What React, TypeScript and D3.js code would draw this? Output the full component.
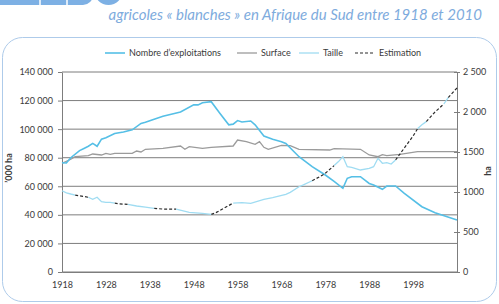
import React, { useEffect, useRef } from 'react';
import * as d3 from 'd3';

const width = 499;
const height = 304;
const plot = { left: 62, right: 457, top: 72, bottom: 272 };
const font = 'Lato, "Open Sans", sans-serif';

const yearTicks = [1918, 1928, 1938, 1948, 1958, 1968, 1978, 1988, 1998];
const leftTicks = [0, 20000, 40000, 60000, 80000, 100000, 120000, 140000];
const rightTicks = [0, 500, 1000, 1500, 2000, 2500];
const rightTickLabels = ['0', '500', '1000', '1500', '2 000', '2 500'];

const legendLabels = ["Nombre d\u2019exploitations", 'Surface', 'Taille', 'Estimation'];

// number of farms
const nombre: [number, number][] = [
  [1918, 76500], [1919, 76300], [1920, 80000], [1922, 85000], [1923, 86500], [1924, 88000],
  [1925, 90000], [1926, 88000], [1927, 93000], [1928, 94000], [1930, 97000], [1932, 98000],
  [1934, 99500], [1936, 104000], [1937, 104800], [1939, 107000], [1941, 109000], [1945, 112000],
  [1948, 117000], [1949, 117000], [1950, 118500], [1952, 119200], [1954, 111000], [1956, 103000],
  [1957, 103500], [1958, 106000], [1959, 105000], [1961, 105700], [1962, 103000], [1964, 95200],
  [1966, 92900], [1968, 91200], [1969, 90000], [1972, 80700], [1975, 73700], [1978, 67900],
  [1980, 63500], [1982, 58600], [1983, 65600], [1984, 66700], [1986, 66700], [1988, 62000],
  [1989, 60900], [1991, 57900], [1992, 60200], [1994, 60200], [1996, 55100], [2000, 45700],
  [2003, 41500], [2008, 36400],
];

// farmed area, '000 ha
const surface: [number, number][] = [
  [1918, 76000], [1920, 78900], [1921, 80700], [1924, 81400], [1925, 82600], [1927, 81900],
  [1928, 83000], [1929, 82400], [1930, 83000], [1934, 83000], [1935, 84700], [1936, 84000],
  [1937, 85900], [1941, 86600], [1945, 88200], [1946, 85900], [1947, 87700], [1950, 86600],
  [1952, 87300], [1957, 88200], [1958, 92400], [1960, 91200], [1962, 89400], [1963, 91200],
  [1964, 87300], [1965, 85900], [1968, 88700], [1970, 88400], [1972, 85900], [1979, 85400],
  [1980, 86300], [1986, 85900], [1988, 81900], [1990, 80700], [1991, 82100], [1992, 81400],
  [1995, 82400], [1999, 84200], [2008, 84200],
];

// average farm size, ha (null = no figure)
const taille: [number, number | null][] = [
  [1918, 1016], [1919, 990], [1920, 975], [1921, 962], [1921.5, null],
  [1924, 934], [1925, 909], [1926, 934], [1927, 880], [1928, 871], [1929, 871], [1930, 860], [1931, null],
  [1933, 846], [1935, 825], [1937, 810], [1939, 796], [1940, null],
  [1944, 785], [1947, 746], [1950, 734], [1952, 721], [1953, null],
  [1957, 862], [1959, 866], [1961, 859], [1964, 909], [1966, 929], [1969, 971], [1970, 996],
  [1972, 1066], [1973, 1088], [1975, 1141], [1976, null],
  [1980, 1330], [1981, 1380], [1982, 1442], [1983, 1316], [1984, 1308], [1986, 1275], [1988, 1296],
  [1989, 1316], [1990, 1421], [1991, 1359], [1992, 1366], [1993, 1350], [1994, 1400], [1995, null],
  [1999, 1790], [2000, 1840], [2001, 1880], [2002, null],
  [2005, 2100], [2006, 2180],
];

// estimated farm size where no figure exists, ha
const estimation: [number, number | null][] = [
  [1921, 962], [1922, 952], [1923, 944], [1924, 934], [1925, null],
  [1930, 860], [1931, 852], [1933, 846], [1934, null],
  [1939, 796], [1941, 787], [1944, 785], [1945, null],
  [1952, 721], [1953, 740], [1955, 800], [1957, 862], [1958, null],
  [1975, 1141], [1977, 1200], [1978, 1234], [1980, 1330], [1981, null],
  [1994, 1400], [1996, 1550], [1998, 1700], [1999, 1790], [2000, null],
  [2001, 1880], [2003, 2000], [2005, 2100], [2005.5, null],
  [2006, 2180], [2008, 2300],
];

const colors = {
  nombre: '#55bfe6',
  surface: '#9b9b9b',
  taille: '#9fdcf2',
  estimation: '#2b2b2b',
  grid: '#7d7d7d',
  text: '#3a3a3a',
  title: '#7eabdd',
  frame: '#aecbea',
};

const fr = d3.formatLocale({ decimal: ',', thousands: '\u2009', grouping: [3], currency: ['', ''] });
const fmtLeft = (d: number) => fr.format(',d')(d).replace('\u2009', ' ');

export default function App() {
  const xAxisRef = useRef<SVGGElement>(null);
  const leftAxisRef = useRef<SVGGElement>(null);
  const rightAxisRef = useRef<SVGGElement>(null);

  const x = d3.scaleLinear().domain([1918, 2008]).range([plot.left, plot.right]);
  const yLeft = d3.scaleLinear().domain([0, 140000]).range([plot.bottom, plot.top]);
  const yRight = d3.scaleLinear().domain([0, 2500]).range([plot.bottom, plot.top]);

  const leftLine = d3.line<[number, number]>().x(d => x(d[0])).y(d => yLeft(d[1]));
  const rightLine = d3
    .line<[number, number | null]>()
    .defined(d => d[1] !== null)
    .x(d => x(d[0]))
    .y(d => yRight(d[1] as number));

  useEffect(() => {
    const style = (g: d3.Selection<SVGGElement, unknown, null, undefined>) => {
      g.select('.domain').attr('stroke', colors.grid);
      g.selectAll('.tick line').attr('stroke', colors.grid);
      g.selectAll('.tick text').attr('fill', colors.text).style('font-family', font).style('font-size', '9px');
    };

    d3.select(leftAxisRef.current!)
      .call(d3.axisLeft(yLeft).tickValues(leftTicks).tickSize(4).tickSizeOuter(0).tickPadding(5).tickFormat(d => fmtLeft(d as number)))
      .call(style);

    d3.select(rightAxisRef.current!)
      .call(
        d3
          .axisRight(yRight)
          .tickValues(rightTicks)
          .tickSize(3)
          .tickSizeOuter(0)
          .tickPadding(3)
          .tickFormat((d, i) => rightTickLabels[i])
      )
      .call(style);
    d3.select(rightAxisRef.current!).selectAll('.tick line').attr('x1', -3);

    d3.select(xAxisRef.current!)
      .call(d3.axisBottom(x).tickValues(yearTicks).tickSize(0).tickSizeOuter(0).tickPadding(10).tickFormat(d3.format('d')))
      .call(style);
  }, []);

  const legendY = 53;
  const legendItems = [
    { x: 105, color: colors.nombre, dash: undefined as string | undefined, w: 1.6 },
    { x: 237, color: colors.surface, dash: undefined, w: 1.3 },
    { x: 299, color: colors.taille, dash: undefined, w: 1.3 },
    { x: 355, color: colors.estimation, dash: '3,2', w: 1.2 },
  ];

  return (
    <svg width={width} height={height} style={{ position: 'absolute', left: 0, top: 0 }}>
      <rect width={width} height={height} fill="#fff" />

      {/* header tabs, cut at the top edge */}
      <rect x={-12} y={-20} width={105} height={25} rx={10} fill="#7db0e4" />
      <line x1={40} x2={40} y1={-2} y2={5} stroke="#fff" strokeWidth={1.5} />
      <line x1={67} x2={67} y1={-2} y2={5} stroke="#fff" strokeWidth={1.5} />
      <circle cx={108.5} cy={-9} r={14} fill="#7db0e4" />

      <text x={482} y={19.5} textAnchor="end" fill={colors.title} style={{ fontFamily: font, fontStyle: 'italic', fontSize: 15 }}>
        agricoles « blanches » en Afrique du Sud entre 1918 et 2010
      </text>

      <rect x={2.5} y={37.5} width={494} height={264} rx={20} fill="none" stroke={colors.frame} strokeWidth={1} />

      {/* legend */}
      {legendItems.map((d, i) => (
        <g key={i}>
          <line x1={d.x} x2={d.x + 20} y1={legendY} y2={legendY} stroke={d.color} strokeWidth={d.w} strokeDasharray={d.dash} />
          <text x={d.x + 24} y={legendY} dy="0.33em" fill={colors.text} style={{ fontFamily: font, fontSize: 9 }}>
            {legendLabels[i]}
          </text>
        </g>
      ))}

      {/* horizontal gridlines */}
      {leftTicks.map(t => (
        <line key={t} x1={plot.left} x2={plot.right} y1={yLeft(t)} y2={yLeft(t)} stroke={colors.grid} strokeWidth={1} />
      ))}

      <g ref={xAxisRef} transform={`translate(0, ${plot.bottom})`} />
      <g ref={leftAxisRef} transform={`translate(${plot.left}, 0)`} />
      <g ref={rightAxisRef} transform={`translate(${plot.right}, 0)`} />

      <path d={leftLine(surface) || ''} fill="none" stroke={colors.surface} strokeWidth={1.3} />
      <path d={leftLine(nombre) || ''} fill="none" stroke={colors.nombre} strokeWidth={1.6} />
      <path d={rightLine(estimation) || ''} fill="none" stroke={colors.estimation} strokeWidth={1.2} strokeDasharray="3,2" />
      <path d={rightLine(taille) || ''} fill="none" stroke={colors.taille} strokeWidth={1.3} />

      {/* axis titles */}
      <text transform="translate(12, 168) rotate(-90)" textAnchor="middle" fill={colors.text} style={{ fontFamily: font, fontSize: 9, fontWeight: 700 }}>
        {"\u2019000 ha"}
      </text>
      <text transform="translate(491, 171) rotate(-90)" textAnchor="middle" fill={colors.text} style={{ fontFamily: font, fontSize: 9, fontWeight: 700 }}>
        ha
      </text>
    </svg>
  );
}
